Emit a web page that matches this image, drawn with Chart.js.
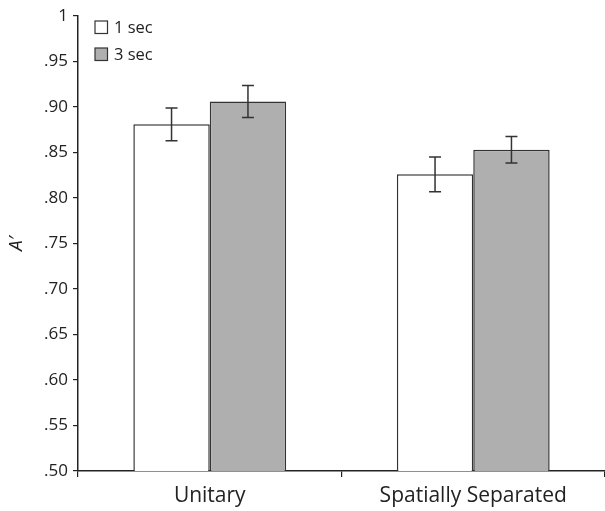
<!DOCTYPE html>
<html>
<head>
<meta charset="utf-8">
<script src="https://cdn.jsdelivr.net/npm/chart.js@4.4.1/dist/chart.umd.min.js"></script>
<style>
  body { margin: 0; background: #fff; }
  canvas { display: block; }
</style>
</head>
<body>
<canvas id="grafico" width="605" height="511"></canvas>
<script>
const categorias = ['Unitary', 'Spatially Separated']
const umSeg = [0.881, 0.826]
const tresSeg = [0.906, 0.853]
const erroUm = [0.018, 0.019]
const erroTres = [0.0175, 0.0145]
const rotulos = ['1 sec', '3 sec']
const fonte = '"Open Sans", "DejaVu Sans", sans-serif'

// barras de erro desenhadas por cima das barras
const barrasErro = {
  id: 'barrasErro',
  afterDatasetsDraw(chart) {
    const c = chart.ctx
    const y = chart.scales.y
    const erros = [erroUm, erroTres]
    c.save()
    c.strokeStyle = '#333'
    c.lineWidth = 1.5
    chart.data.datasets.forEach((ds, i) => {
      chart.getDatasetMeta(i).data.forEach((bar, j) => {
        const v = ds.data[j]
        const e = erros[i][j]
        const yt = y.getPixelForValue(v + e)
        const yb = y.getPixelForValue(v - e)
        c.beginPath()
        c.moveTo(bar.x, yt); c.lineTo(bar.x, yb)
        c.moveTo(bar.x - 6, yt); c.lineTo(bar.x + 6, yt)
        c.moveTo(bar.x - 6, yb); c.lineTo(bar.x + 6, yb)
        c.stroke()
      })
    })
    c.restore()
  }
}

// legenda dentro da area do grafico
const legenda = {
  id: 'legenda',
  afterDraw(chart) {
    const c = chart.ctx
    const a = chart.chartArea
    c.save()
    c.font = '16.5px ' + fonte
    c.textBaseline = 'middle'
    chart.data.datasets.forEach((ds, i) => {
      const bx = a.left + 17
      const by = 21 + i * 27
      c.fillStyle = ds.backgroundColor
      c.fillRect(bx, by, 12.5, 12.5)
      c.strokeStyle = '#333'
      c.lineWidth = 1.2
      c.strokeRect(bx, by, 12.5, 12.5)
      c.fillStyle = '#222'
      c.fillText(ds.label, bx + 19, by + 7)
    })
    c.restore()
  }
}

new Chart(document.getElementById('grafico'), {
  type: 'bar',
  data: {
    labels: categorias,
    datasets: [
      { label: rotulos[0], data: umSeg, backgroundColor: '#ffffff', borderColor: '#333', borderWidth: 1.5 },
      { label: rotulos[1], data: tresSeg, backgroundColor: '#afafaf', borderColor: '#333', borderWidth: 1.5 }
    ]
  },
  options: {
    responsive: false,
    animation: false,
    layout: { padding: { top: 16, right: -3, left: 0, bottom: 0 } },
    datasets: { bar: { barPercentage: 1, categoryPercentage: 0.58 } },
    plugins: { legend: { display: false }, tooltip: { enabled: false } },
    scales: {
      x: {
        grid: { offset: true, drawOnChartArea: false, color: '#222', tickLength: 6, lineWidth: 1.2 },
        border: { color: '#222', width: 1.5 },
        ticks: { color: '#222', font: { family: fonte, size: 21 }, padding: 6 },
        afterFit: (s) => { s.height = 40 }
      },
      y: {
        min: 0.5,
        max: 1,
        ticks: {
          stepSize: 0.05,
          color: '#222',
          padding: 5,
          font: { family: fonte, size: 17 },
          callback: (v) => v >= 0.999 ? '1' : v.toFixed(2).replace(/^0/, '')
        },
        grid: { drawOnChartArea: false, color: '#222', tickLength: 5, lineWidth: 1.2 },
        border: { color: '#222', width: 1.5 },
        title: { display: true, text: 'A′', color: '#222', font: { family: fonte, size: 19, style: 'italic' }, padding: { top: 5, bottom: 0 } },
        afterFit: (s) => { s.width = 78 }
      }
    }
  },
  plugins: [barrasErro, legenda]
})
</script>
</body>
</html>
